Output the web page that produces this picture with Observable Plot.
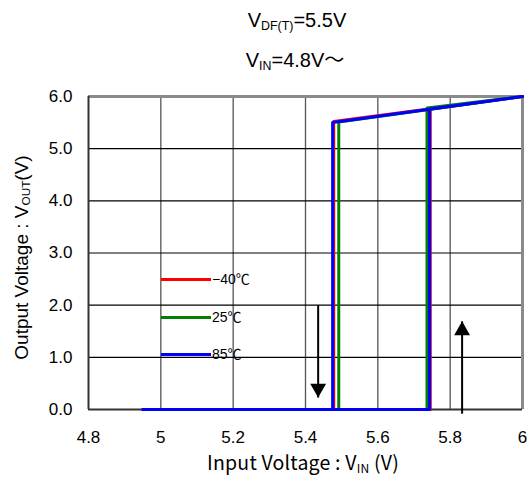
<!DOCTYPE html>
<html>
<head>
<meta charset="utf-8">
<script src="https://cdn.jsdelivr.net/npm/d3@7"></script>
<script src="https://cdn.jsdelivr.net/npm/@observablehq/plot@0.6"></script>
<style>
  body { margin: 0; background: #fff; }
  #wrap { position: relative; width: 530px; height: 478px; font-family: "Liberation Sans", Arial, sans-serif; color: #000; }
  .t { position: absolute; white-space: nowrap; line-height: 1; }
  sub { font-size: 0.62em; vertical-align: -0.22em; line-height: 0; }
  .leg { position: absolute; height: 3px; width: 50px; }
  .legt { position: absolute; font-size: 14px; line-height: 1; font-family: "Liberation Sans", Arial, "Noto Sans CJK JP", sans-serif; }
</style>
</head>
<body>
<div id="wrap"></div>
<script>
// ---- data ----
const xDomain = [4.8, 6.0];
const yDomain = [0, 6];
const xTicks = [4.8, 5.0, 5.2, 5.4, 5.6, 5.8, 6.0];
const yTicks = [0, 1, 2, 3, 4, 5, 6];
const seriesNames = ["−40℃", "25℃", "85℃"];
const seriesColors = ["#ff0000", "#008000", "#0000ff"];
// sweep up then sweep down (hysteresis loop)
const vinRed   = [4.95, 5.745, 5.745, 6.00, 5.478, 5.478, 4.95];
const voutRed  = [0.00, 0.00,  5.76,  6.00, 5.52,  0.00,  0.00];
const vinGreen = [4.95, 5.736, 5.736, 6.00, 5.492, 5.492, 4.95];
const voutGreen= [0.00, 0.00,  5.78,  6.00, 5.51,  0.00,  0.00];
const vinBlue  = [4.95, 5.743, 5.743, 6.00, 5.475, 5.475, 4.95];
const voutBlue = [0.00, 0.00,  5.76,  6.00, 5.50,  0.00,  0.00];
// arrows: x position, start value, tip value
const arrowX    = [5.435, 5.833];
const arrowFrom = [2.00, -0.08];
const arrowTo   = [0.23, 1.69];

const series = [
  {name: seriesNames[0], x: vinRed, y: voutRed},
  {name: seriesNames[1], x: vinGreen, y: voutGreen},
  {name: seriesNames[2], x: vinBlue, y: voutBlue}
];
const pts = series.flatMap(s => s.x.map((x, i) => ({s: s.name, x, y: s.y[i]})));
const arrows = arrowX.map((x, i) => ({x, y1: arrowFrom[i], y2: arrowTo[i], up: arrowTo[i] > arrowFrom[i]}));

const chart = Plot.plot({
  width: 530,
  height: 478,
  marginLeft: 88,
  marginRight: 8,
  marginTop: 96,
  marginBottom: 69,
  style: {fontSize: "17px", fontFamily: "'Liberation Sans', Arial, sans-serif", color: "#000", background: "#fff", overflow: "visible"},
  x: {domain: xDomain, ticks: xTicks, tickSize: 0, tickPadding: 21, tickFormat: d => d3.format("")(+d.toFixed(1)), label: null},
  y: {domain: yDomain, ticks: yTicks, tickSize: 0, tickPadding: 16, tickFormat: d3.format(".1f"), label: null},
  color: {domain: seriesNames, range: seriesColors},
  marks: [
    Plot.ruleX(xTicks.slice(1, -1), {stroke: "#555", strokeWidth: 1.3}),
    Plot.ruleY(yTicks.slice(1, -1), {stroke: "#000", strokeWidth: 1.2}),
    Plot.ruleY([yDomain[1]], {stroke: "#8a8a8a", strokeWidth: 3}),
    Plot.ruleX([xDomain[1]], {stroke: "#8a8a8a", strokeWidth: 3}),
    Plot.ruleX([xDomain[0]], {stroke: "#333", strokeWidth: 2}),
    Plot.ruleY([yDomain[0]], {stroke: "#333", strokeWidth: 2}),
    Plot.line(pts, {x: "x", y: "y", z: "s", stroke: "s", strokeWidth: 3, curve: "linear"}),
    Plot.link(arrows, {x1: "x", x2: "x", y1: "y1", y2: "y2", stroke: "#000", strokeWidth: 2}),
    Plot.dot(arrows.filter(d => !d.up), {x: "x", y: "y2", symbol: "triangle", r: 5.9, rotate: 180, fill: "#000", stroke: "none", dy: -9.2}),
    Plot.dot(arrows.filter(d => d.up), {x: "x", y: "y2", symbol: "triangle", r: 5.9, fill: "#000", stroke: "none", dy: 9.2})
  ]
});

const wrap = document.getElementById("wrap");
wrap.appendChild(chart);

function addText(html, css) {
  const d = document.createElement("div");
  d.className = "t";
  d.innerHTML = html;
  Object.assign(d.style, css);
  wrap.appendChild(d);
  return d;
}
addText("V<sub>DF(T)</sub>=5.5V", {left: "147px", width: "300px", textAlign: "center", top: "10px", fontSize: "20px"});
addText("V<sub>IN</sub>=4.8V～", {left: "145px", width: "300px", textAlign: "center", top: "50px", fontSize: "20px", fontFamily: "'Liberation Sans', 'Noto Sans CJK JP', sans-serif"});
addText("Input Voltage : V<sub>IN</sub> (V)", {left: "153px", width: "300px", textAlign: "center", top: "452px", fontSize: "19.5px", letterSpacing: "0.2px", fontFamily: "'Noto Sans CJK JP', sans-serif"});
addText("Output Voltage : V<sub>OUT</sub>(V)", {left: "-129px", width: "300px", textAlign: "center", top: "248px", fontSize: "19px", transform: "rotate(-90deg)"});

// legend
const legTop = [278, 316, 353];
seriesNames.forEach((n, i) => {
  const l = document.createElement("div");
  l.className = "leg";
  Object.assign(l.style, {left: "161px", top: legTop[i] + "px", background: seriesColors[i]});
  wrap.appendChild(l);
  const t = document.createElement("div");
  t.className = "legt";
  t.textContent = n;
  Object.assign(t.style, {left: "212px", top: (legTop[i] - 6) + "px"});
  wrap.appendChild(t);
});
</script>
</body>
</html>
